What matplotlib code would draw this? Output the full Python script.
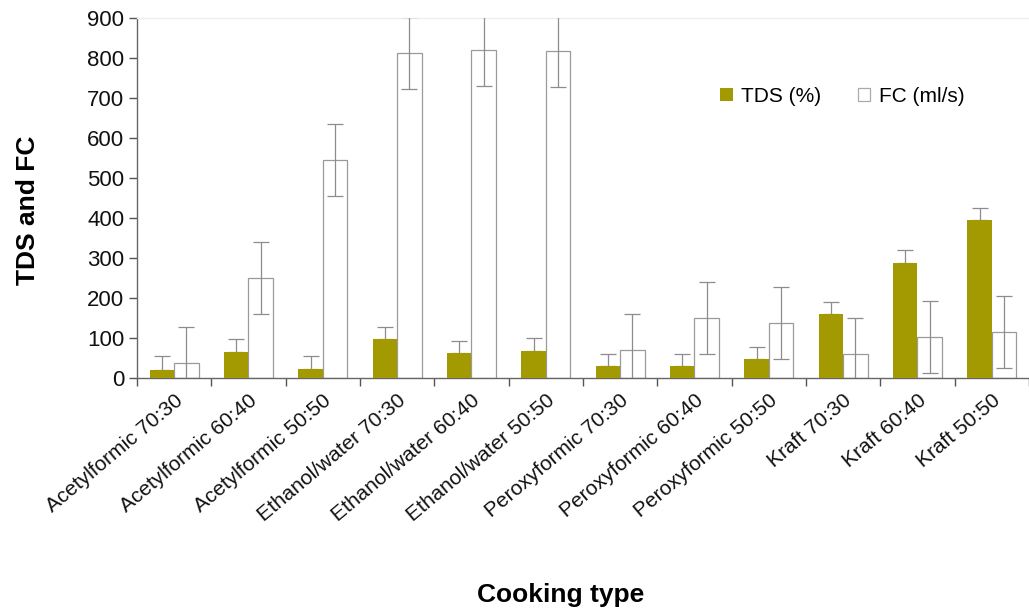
import matplotlib
matplotlib.use("Agg")
import matplotlib.pyplot as plt
import numpy as np

plt.rcParams['font.family'] = ['Liberation Sans', 'DejaVu Sans']

categories = ["Acetylformic 70:30", "Acetylformic 60:40", "Acetylformic 50:50",
              "Ethanol/water 70:30", "Ethanol/water 60:40", "Ethanol/water 50:50",
              "Peroxyformic 70:30", "Peroxyformic 60:40", "Peroxyformic 50:50",
              "Kraft 70:30", "Kraft 60:40", "Kraft 50:50"]
tds = [21, 65, 22, 97, 62, 68, 29, 29, 47, 160, 288, 395]
tds_err = [33, 32, 33, 30, 31, 31, 32, 32, 30, 30, 31, 30]
fc = [37, 250, 544, 813, 820, 818, 69, 150, 137, 60, 102, 114]
fc_err = [90, 90, 90, 90, 90, 90, 90, 90, 90, 90, 90, 90]
yticks = [0, 100, 200, 300, 400, 500, 600, 700, 800, 900]

olive = "#A39900"
grey = "#8c8c8c"

fig = plt.figure(figsize=(10.29, 6.12), dpi=100)
ax = fig.add_axes([0.1331, 0.3824, 0.8669, 0.5882])

x = np.arange(len(categories))
w = 0.33
ax.bar(x - w / 2, tds, w, color=olive, edgecolor='none', label="TDS (%)", zorder=3)
ax.errorbar(x - w / 2, tds, yerr=[np.zeros(len(tds)), tds_err], fmt='none',
            ecolor=grey, elinewidth=0.9, capsize=5.5, capthick=0.9, zorder=2)
ax.bar(x + w / 2, fc, w, color='white', edgecolor='#9a9a9a', linewidth=0.9,
       label="FC (ml/s)", zorder=2)
ax.errorbar(x + w / 2, fc, yerr=fc_err, fmt='none',
            ecolor=grey, elinewidth=0.9, capsize=5.5, capthick=0.9, zorder=4)

ax.set_xlim(-0.5, len(categories) - 0.5)
ax.set_ylim(0, 900)
ax.set_yticks(yticks)
ax.set_yticklabels([str(v) for v in yticks], fontsize=16, color='#111111')

# ticks on the x axis mark the boundaries between categories
ax.set_xticks(np.arange(len(categories) + 1) - 0.5)
ax.set_xticklabels([])
ax.set_xticks(x, minor=True)
ax.set_xticklabels(categories, minor=True, rotation=40, ha='right',
                   rotation_mode='anchor', fontsize=15, color='#111111')
ax.tick_params(axis='x', which='minor', length=0, pad=9)
ax.tick_params(axis='x', which='major', length=6, width=1, color='#555555', direction='out')
ax.tick_params(axis='y', length=6, width=1, color='#555555', direction='out', pad=3)

for side in ['left', 'bottom']:
    ax.spines[side].set_color('#666666')
    ax.spines[side].set_linewidth(1.0)
ax.spines['right'].set_visible(False)
ax.spines['top'].set_color('#eeeeee')
ax.spines['top'].set_linewidth(1.0)

fig.text(0.027, 0.657, "TDS and FC", rotation=90, fontsize=19, fontweight='bold',
         ha='center', va='center')
fig.text(0.545, 0.028, "Cooking type", fontsize=19, fontweight='bold',
         ha='center', va='center')

leg = ax.legend(loc='upper left', bbox_to_anchor=(0.692, 0.872), bbox_transform=fig.transFigure,
                ncol=2, frameon=False, fontsize=15, handlelength=0.6, handleheight=0.6,
                handletextpad=0.4, columnspacing=1.75, borderaxespad=0)
leg.get_patches()[1].set_edgecolor('#aaaaaa')

fig.savefig("out.png", dpi=100)
